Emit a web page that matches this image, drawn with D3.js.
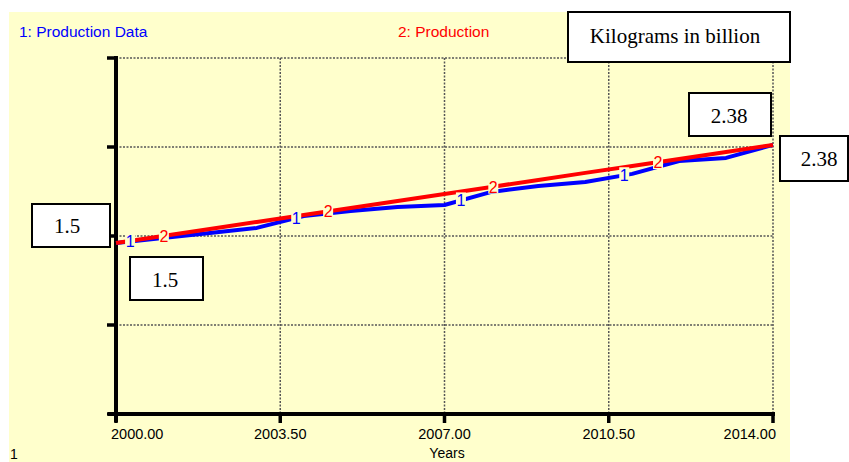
<!DOCTYPE html>
<html>
<head>
<meta charset="utf-8">
<script src="https://cdn.jsdelivr.net/npm/d3@7/dist/d3.min.js"></script>
<style>
  html, body { margin: 0; padding: 0; background: #ffffff; }
  svg { display: block; }
</style>
</head>
<body>
<svg id="chart" width="849" height="462"></svg>
<script>
// ---- data ----
const years = [2000, 2001, 2002, 2003, 2004, 2005, 2006, 2007, 2008, 2009, 2010, 2011, 2012, 2013, 2014];
const productionData = [1.50, 1.545, 1.59, 1.635, 1.742, 1.787, 1.823, 1.841, 1.958, 2.012, 2.048, 2.12, 2.236, 2.263, 2.38];
const production = [1.500, 1.563, 1.626, 1.689, 1.751, 1.814, 1.877, 1.940, 2.003, 2.066, 2.129, 2.191, 2.254, 2.317, 2.380];
const xTicks = [2000, 2003.5, 2007, 2010.5, 2014];
const xTickLabels = ["2000.00", "2003.50", "2007.00", "2010.50", "2014.00"];
const seriesNames = ["1: Production Data", "2: Production"];
const seriesMarks = ["1", "2"];
const label1 = [2000.3, 2003.84, 2007.35, 2010.83];
const label2 = [2001.02, 2004.52, 2008.04, 2011.55];
const boxTexts = ["Kilograms in billion", "1.5", "1.5", "2.38", "2.38"];
const yDomain = [-0.035, 3.16];

// ---- layout ----
const svg = d3.select("#chart");
const L = 116, R = 773, T = 58, B = 414;
const bg = "#ffffcc";

svg.append("rect").attr("x", 9).attr("y", 12).attr("width", 781).attr("height", 450).attr("fill", bg);

const x = d3.scaleLinear().domain([2000, 2014]).range([L, R]);
const y = d3.scaleLinear().domain(yDomain).range([B, T]);
const yGrid = d3.range(5).map(i => yDomain[0] + i * (yDomain[1] - yDomain[0]) / 4);

// gridlines
const grid = svg.append("g").attr("stroke", "#555").attr("stroke-width", 1.5).attr("stroke-dasharray", "2,1.5");
grid.selectAll("line.h").data(yGrid.slice(1)).enter().append("line")
  .attr("x1", L).attr("x2", R).attr("y1", d => y(d)).attr("y2", d => y(d));
grid.selectAll("line.v").data(xTicks.slice(1)).enter().append("line")
  .attr("x1", d => x(d)).attr("x2", d => x(d)).attr("y1", T).attr("y2", B);

// axes
const ax = svg.append("g").attr("stroke", "#000");
ax.append("line").attr("x1", L).attr("x2", L).attr("y1", T - 2).attr("y2", B + 8).attr("stroke-width", 4);
ax.append("line").attr("x1", L - 8).attr("x2", R + 2).attr("y1", B).attr("y2", B).attr("stroke-width", 4);
ax.selectAll("line.yt").data(yGrid).enter().append("line")
  .attr("x1", L - 9).attr("x2", L).attr("y1", d => y(d)).attr("y2", d => y(d)).attr("stroke-width", 3.5);
ax.selectAll("line.xt").data(xTicks).enter().append("line")
  .attr("x1", d => x(d)).attr("x2", d => x(d)).attr("y1", B).attr("y2", B + 9).attr("stroke-width", 3.5);

// tick labels
svg.append("g").selectAll("text").data(xTicks).enter().append("text")
  .attr("x", (d, i) => i === 0 ? x(d) - 5 : (i === xTicks.length - 1 ? x(d) + 3 : x(d)))
  .attr("y", 439)
  .attr("text-anchor", (d, i) => i === 0 ? "start" : (i === xTicks.length - 1 ? "end" : "middle"))
  .attr("font-family", "Liberation Sans, Arial, sans-serif").attr("font-size", 14.5).attr("fill", "#000")
  .text((d, i) => xTickLabels[i]);

svg.append("text").attr("x", 447).attr("y", 458).attr("text-anchor", "middle")
  .attr("font-family", "Liberation Sans, Arial, sans-serif").attr("font-size", 14).text("Years");
svg.append("text").attr("x", 10).attr("y", 459)
  .attr("font-family", "Liberation Sans, Arial, sans-serif").attr("font-size", 14).text("1");

// legend
svg.append("text").attr("x", 19).attr("y", 37).attr("fill", "#0000ff")
  .attr("font-family", "Liberation Sans, Arial, sans-serif").attr("font-size", 15.5).text(seriesNames[0]);
svg.append("text").attr("x", 398).attr("y", 37).attr("fill", "#ff0000")
  .attr("font-family", "Liberation Sans, Arial, sans-serif").attr("font-size", 15.5).text(seriesNames[1]);

// lines
const line = d3.line().x((d, i) => x(years[i])).y(d => y(d));
svg.append("path").datum(productionData).attr("d", line).attr("fill", "none")
  .attr("stroke", "#0000ff").attr("stroke-width", 4).attr("stroke-linejoin", "round");
svg.append("path").datum(production).attr("d", line).attr("fill", "none")
  .attr("stroke", "#ff0000").attr("stroke-width", 4).attr("stroke-linejoin", "round");

// series marks on lines
function interp(series, t) {
  return y(d3.scaleLinear().domain(years).range(series)(t));
}
function marks(positions, series, color, txt) {
  const g = svg.append("g");
  positions.forEach(t => {
    const cx = x(t), cy = interp(series, t);
    g.append("rect").attr("x", cx - 5).attr("y", cy - 8).attr("width", 10).attr("height", 15).attr("fill", bg);
    g.append("text").attr("x", cx).attr("y", cy + 6).attr("text-anchor", "middle")
      .attr("font-family", "Liberation Sans, Arial, sans-serif").attr("font-size", 16).attr("fill", color).text(txt);
  });
}
marks(label1, productionData, "#0000ff", seriesMarks[0]);
marks(label2, production, "#ff0000", seriesMarks[1]);

// annotation boxes
const boxes = [
  {x: 568, y: 12, w: 222, h: 50, tx: 675, ty: 43},
  {x: 32, y: 204, w: 78, h: 43, tx: 67, ty: 233},
  {x: 130, y: 257, w: 73, h: 43, tx: 165, ty: 287},
  {x: 689, y: 93, w: 82, h: 43, tx: 729, ty: 123},
  {x: 780, y: 136, w: 68, h: 45, tx: 819, ty: 166}
];
const bx = svg.append("g");
boxes.forEach((b, i) => {
  bx.append("rect").attr("x", b.x).attr("y", b.y).attr("width", b.w).attr("height", b.h)
    .attr("fill", "#fff").attr("stroke", "#000").attr("stroke-width", 2);
  bx.append("text").attr("x", b.tx).attr("y", b.ty).attr("text-anchor", "middle")
    .attr("font-family", "Liberation Serif, Times New Roman, serif").attr("font-size", 21).attr("fill", "#000")
    .text(boxTexts[i]);
});
</script>
</body>
</html>
